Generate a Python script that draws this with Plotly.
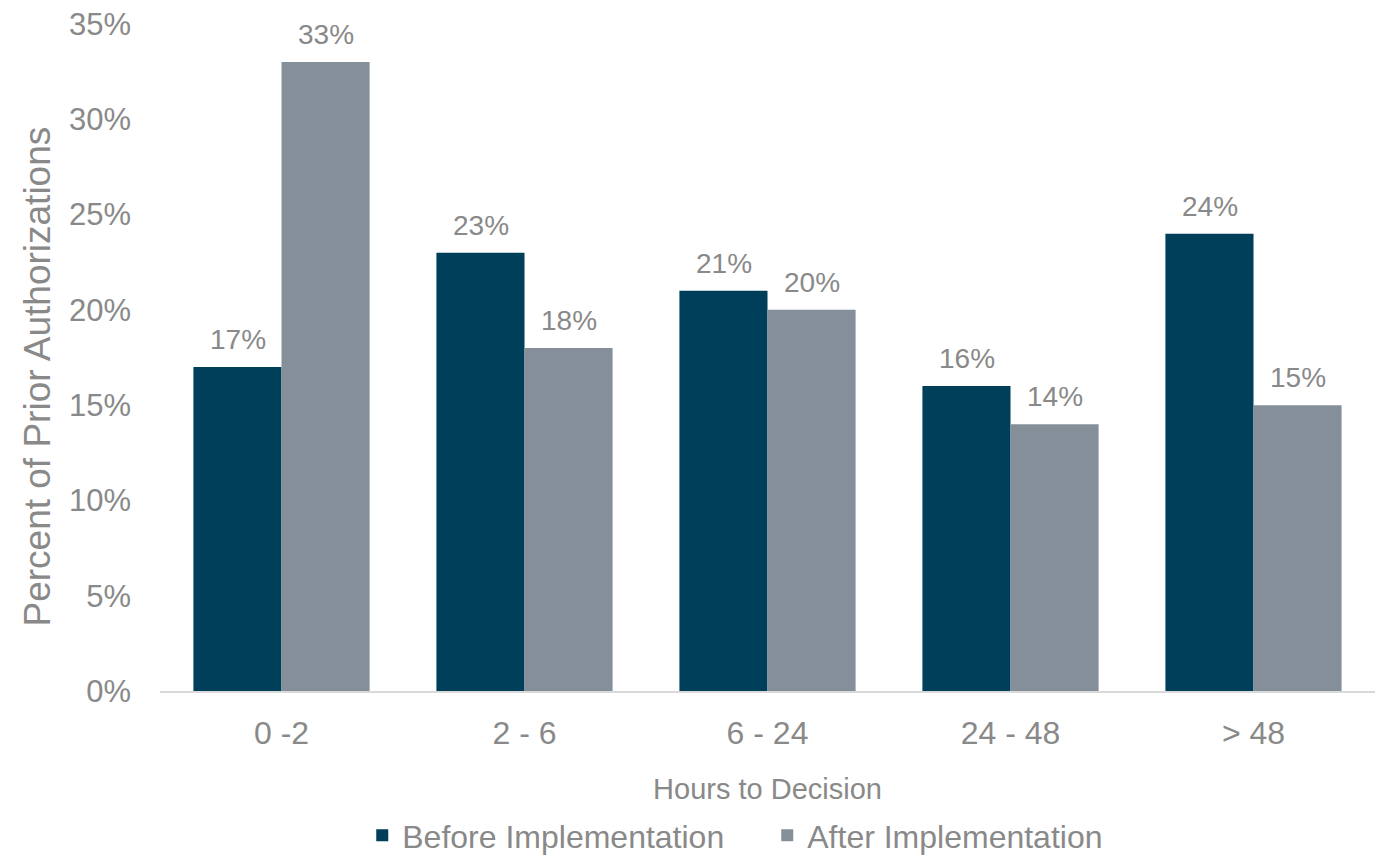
import plotly.graph_objects as go

categories = ["0 -2", "2 - 6", "6 - 24", "24 - 48", "> 48"]
before = [17, 23, 21, 16, 24]
after = [33, 18, 20, 14, 15]
y_ticks = [0, 5, 10, 15, 20, 25, 30, 35]
y_tick_labels = ["0%", "5%", "10%", "15%", "20%", "25%", "30%", "35%"]

TXT = "#898989"
FONT = "Liberation Sans, Arial, sans-serif"

fig = go.Figure()
fig.add_trace(go.Bar(
    x=categories, y=before, name="Before Implementation",
    marker=dict(color="#003f5a", line=dict(width=0)),
))
fig.add_trace(go.Bar(
    x=categories, y=after, name="After Implementation",
    marker=dict(color="#858f99", line=dict(width=0)),
))

# data labels above each bar
for series, shift in ((before, -44), (after, 44)):
    for cat, v in zip(categories, series):
        fig.add_annotation(
            x=cat, y=v, xref="x", yref="y", text=f"{v}%", showarrow=False,
            xshift=shift, yshift=10, yanchor="bottom", xanchor="center",
            font=dict(size=28, color=TXT, family=FONT),
        )

fig.add_annotation(
    text="Percent of Prior Authorizations", textangle=-90, showarrow=False,
    xref="paper", yref="paper", x=0, y=0.5, xanchor="center", yanchor="middle",
    xshift=-123, yshift=-19,
    font=dict(size=37, color=TXT, family=FONT),
)

fig.update_layout(
    width=1375, height=863,
    margin=dict(l=160, r=0, t=24, b=172, autoexpand=False),
    paper_bgcolor="white", plot_bgcolor="white",
    barmode="group", bargap=0.275, bargroupgap=0,
    font=dict(family=FONT, color=TXT),
    showlegend=True,
    legend=dict(orientation="h", xref="container", yref="container",
                x=0.558, xanchor="center", y=0.0, yanchor="bottom",
                font=dict(size=32, color=TXT, family=FONT), traceorder="normal",
                itemwidth=30, entrywidth=360),
    xaxis=dict(
        showgrid=False, showline=True, linecolor="#d9d9d9", linewidth=2,
        ticks="", tickfont=dict(size=32, color=TXT, family=FONT), ticklabelstandoff=13,
        title=dict(text="Hours to Decision", font=dict(size=29, color=TXT, family=FONT), standoff=28),
    ),
    yaxis=dict(
        range=[0, 35], tickvals=y_ticks, ticktext=y_tick_labels,
        showgrid=False, zeroline=False, showline=False, ticks="",
        tickfont=dict(size=31, color=TXT, family=FONT), ticklabelstandoff=28,
    ),
)

fig.write_html("out.html")
